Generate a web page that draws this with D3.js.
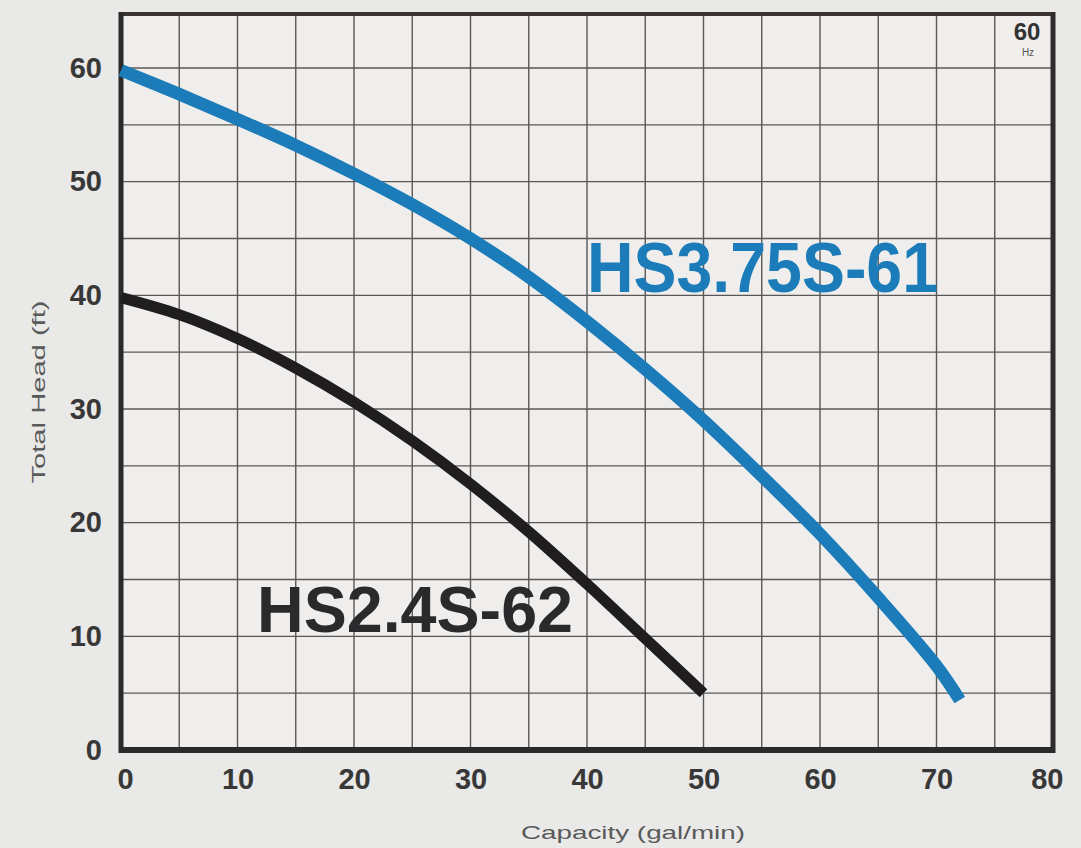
<!DOCTYPE html>
<html>
<head>
<meta charset="utf-8">
<script src="https://cdn.jsdelivr.net/npm/d3@7"></script>
<style>
  html, body { margin: 0; padding: 0; background: #e9e9e7; }
  svg { display: block; }
</style>
</head>
<body>
<svg id="chart" width="1081" height="848"></svg>
<script>
// ---- data ----
const xTicks = [0, 10, 20, 30, 40, 50, 60, 70, 80];
const yTicks = [0, 10, 20, 30, 40, 50, 60];
const gridStep = 5;

const capacityA = [0, 5, 10, 15, 20, 25, 30, 35, 40, 45, 50, 55, 60, 65, 70, 72];
const headA     = [59.8, 57.7, 55.5, 53.2, 50.7, 48.0, 45.0, 41.6, 37.7, 33.5, 29.0, 24.1, 19.0, 13.4, 7.4, 4.4];
const nameA = "HS3.75S-61";

const capacityB = [0, 5, 10, 15, 20, 25, 30, 35, 40, 45, 50];
const headB     = [39.8, 38.3, 36.2, 33.6, 30.6, 27.2, 23.4, 19.2, 14.6, 9.8, 5.0];
const nameB = "HS2.4S-62";

const xTitle = "Capacity  (gal/min)";
const yTitle = "Total  Head  (ft)";
const freqLabel = "60";
const freqUnit = "Hz";

// ---- layout ----
const svg = d3.select("#chart");
const yTop = 64.75;
const x = d3.scaleLinear().domain([0, 80]).range([121, 1053]);
const y = d3.scaleLinear().domain([0, yTop]).range([750, 14]);

// plot background
svg.append("rect")
  .attr("x", x(0)).attr("y", y(yTop))
  .attr("width", x(80) - x(0)).attr("height", y(0) - y(yTop))
  .attr("fill", "#efeeec");

// grid
const gx = d3.range(gridStep, 80, gridStep);
const gy = d3.range(gridStep, yTop, gridStep);
const grid = svg.append("g").attr("stroke", "#5a5856").attr("stroke-width", 1.4);
grid.selectAll("line.v").data(gx).join("line")
  .attr("x1", d => x(d)).attr("x2", d => x(d))
  .attr("y1", y(yTop)).attr("y2", y(0));
grid.selectAll("line.h").data(gy).join("line")
  .attr("x1", x(0)).attr("x2", x(80))
  .attr("y1", d => y(d)).attr("y2", d => y(d));

// frame
svg.append("line").attr("x1", x(0)).attr("x2", x(80)).attr("y1", y(yTop)).attr("y2", y(yTop))
  .attr("stroke", "#3a3330").attr("stroke-width", 4);
svg.append("line").attr("x1", x(80)).attr("x2", x(80)).attr("y1", y(yTop) - 2).attr("y2", y(0) + 3)
  .attr("stroke", "#2e2c2c").attr("stroke-width", 5);
svg.append("line").attr("x1", x(0)).attr("x2", x(0)).attr("y1", y(yTop) - 2).attr("y2", y(0) + 3)
  .attr("stroke", "#2a2a2a").attr("stroke-width", 5);
svg.append("line").attr("x1", x(0) - 2).attr("x2", x(80) + 2).attr("y1", y(0)).attr("y2", y(0))
  .attr("stroke", "#2a2a2a").attr("stroke-width", 6);

// curves
const line = d3.line().x(d => x(d[0])).y(d => y(d[1])).curve(d3.curveCatmullRom.alpha(0.5));
svg.append("path")
  .datum(d3.zip(capacityA, headA))
  .attr("d", line).attr("fill", "none")
  .attr("stroke", "#1b7cb9").attr("stroke-width", 12.5).attr("stroke-linecap", "butt");
svg.append("path")
  .datum(d3.zip(capacityB, headB))
  .attr("d", line).attr("fill", "none")
  .attr("stroke", "#1f1d1d").attr("stroke-width", 11).attr("stroke-linecap", "butt");

// series labels
svg.append("text").text(nameA)
  .attr("x", 587).attr("y", 292)
  .attr("font-family", "Liberation Sans, Arial, sans-serif").attr("font-weight", "bold")
  .attr("font-size", 70).attr("fill", "#1b7cb9")
  .attr("textLength", 351).attr("lengthAdjust", "spacingAndGlyphs");
svg.append("text").text(nameB)
  .attr("x", 257).attr("y", 632)
  .attr("font-family", "Liberation Sans, Arial, sans-serif").attr("font-weight", "bold")
  .attr("font-size", 65).attr("fill", "#2a2a2c")
  .attr("textLength", 316).attr("lengthAdjust", "spacingAndGlyphs");

// axes (labels only)
const xAxis = svg.append("g").attr("transform", `translate(0,${y(0)})`)
  .call(d3.axisBottom(x).tickValues(xTicks).tickSize(0).tickPadding(18));
xAxis.select(".domain").remove();
xAxis.selectAll("text")
  .attr("font-family", "Liberation Sans, Arial, sans-serif").attr("font-weight", "bold")
  .attr("font-size", 29).attr("fill", "#383838")
  .attr("text-anchor", (d, i) => i === 0 ? "start" : (i === xTicks.length - 1 ? "end" : "middle"))
  .attr("dx", (d, i) => i === 0 ? -4 : (i === xTicks.length - 1 ? 10 : 0));

const yAxis = svg.append("g").attr("transform", `translate(${x(0)},0)`)
  .call(d3.axisLeft(y).tickValues(yTicks).tickSize(0).tickPadding(19));
yAxis.select(".domain").remove();
yAxis.selectAll("text")
  .attr("font-family", "Liberation Sans, Arial, sans-serif").attr("font-weight", "bold")
  .attr("font-size", 29).attr("fill", "#383838");

// axis titles
svg.append("text").text(xTitle)
  .attr("x", 633).attr("y", 839).attr("text-anchor", "middle")
  .attr("font-family", "Liberation Sans, Arial, sans-serif")
  .attr("font-size", 19).attr("fill", "#5a5a5a")
  .attr("textLength", 224).attr("lengthAdjust", "spacingAndGlyphs");
svg.append("text").text(yTitle)
  .attr("transform", "translate(45,392) rotate(-90)")
  .attr("text-anchor", "middle")
  .attr("font-family", "Liberation Sans, Arial, sans-serif")
  .attr("font-size", 18).attr("fill", "#5a5a5a")
  .attr("textLength", 183).attr("lengthAdjust", "spacingAndGlyphs");

// frequency badge
svg.append("text").text(freqLabel)
  .attr("x", 1027).attr("y", 40).attr("text-anchor", "middle")
  .attr("font-family", "Liberation Sans, Arial, sans-serif").attr("font-weight", "bold")
  .attr("font-size", 24).attr("fill", "#333");
svg.append("text").text(freqUnit)
  .attr("x", 1028).attr("y", 56).attr("text-anchor", "middle")
  .attr("font-family", "Liberation Sans, Arial, sans-serif")
  .attr("font-size", 10).attr("fill", "#555");
</script>
</body>
</html>
